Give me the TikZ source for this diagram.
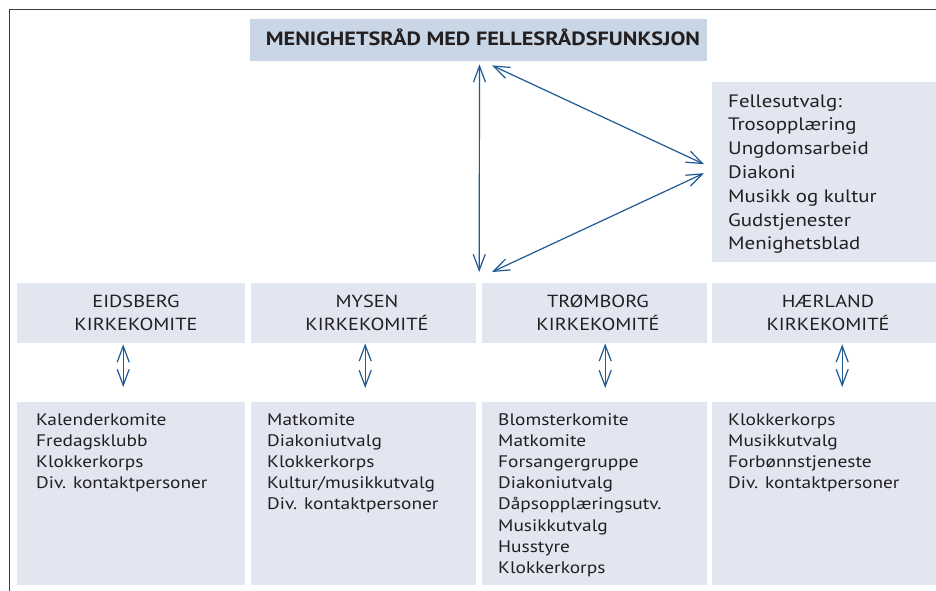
\documentclass[tikz,border=0pt]{standalone}
\usepackage{fontspec}
\setmainfont{PT Sans}[FakeStretch=1.16]
\usetikzlibrary{arrows.meta,calc}
\definecolor{topfill}{RGB}{201,214,230}
\definecolor{boxfill}{RGB}{225,230,241}
\definecolor{arrowblue}{RGB}{30,90,150}
\definecolor{textgrey}{RGB}{35,31,32}
\definecolor{framegrey}{RGB}{60,60,60}
\begin{document}
\begin{tikzpicture}[x=1pt,y=-1pt,
  topbox/.style={fill=topfill, draw=none, inner sep=0pt, anchor=north west},
  box/.style={fill=boxfill, draw=none, inner sep=0pt, anchor=north west},
  titletext/.style={text=textgrey, inner sep=0pt, anchor=base, font=\bfseries\fontsize{19.2}{23}\selectfont},
  headtext/.style={text=textgrey, inner sep=0pt, anchor=base, align=center, font=\fontsize{17.5}{23.5}\selectfont},
  listtext/.style={text=textgrey, inner sep=0pt, anchor=base west, align=left, font=\fontsize{16.7}{21.2}\selectfont},
  felltext/.style={text=textgrey, inner sep=0pt, anchor=base west, align=left, font=\fontsize{18}{23.8}\selectfont},
  arr/.style={arrowblue, line width=1.2pt, {Straight Barb[length=16pt,width=12pt]}-{Straight Barb[length=16pt,width=12pt]}}
]
\useasboundingbox (0,0) rectangle (936,591);
\fill[white] (0,0) rectangle (936,591);
\draw[framegrey, line width=1pt] (936,10) -- (9,10) -- (9,591);

% boxes
\node[topbox, minimum width=457pt, minimum height=42pt] (top) at (250,19) {};
\node[box, minimum width=224pt, minimum height=180pt] (felles) at (712,82) {};
\node[box, minimum width=228pt, minimum height=60pt] (eids) at (17,283) {};
\node[box, minimum width=225pt, minimum height=60pt] (mysen) at (251,283) {};
\node[box, minimum width=225pt, minimum height=60pt] (trom) at (482,283) {};
\node[box, minimum width=224pt, minimum height=60pt] (haer) at (712,283) {};
\node[box, minimum width=228pt, minimum height=183pt] (eidsl) at (17,402) {};
\node[box, minimum width=225pt, minimum height=183pt] (mysenl) at (251,402) {};
\node[box, minimum width=225pt, minimum height=183pt] (troml) at (482,402) {};
\node[box, minimum width=224pt, minimum height=183pt] (haerl) at (712,402) {};

% texts (multi-line nodes are placed by the baseline of their last line)
\node[titletext] (toptext) at (483,46) {MENIGHETSRÅD MED FELLESRÅDSFUNKSJON};
\node[felltext] (fellestext) at (728,249.8) {Fellesutvalg:\\Trosopplæring\\Ungdomsarbeid\\Diakoni\\Musikk og kultur\\Gudstjenester\\Menighetsblad};
\node[headtext] (eidstext) at (136,330.5) {EIDSBERG\\KIRKEKOMITE};
\node[headtext] (mysentext) at (367,330.5) {MYSEN\\KIRKEKOMITÉ};
\node[headtext] (tromtext) at (598,330.5) {TRØMBORG\\KIRKEKOMITÉ};
\node[headtext] (haertext) at (828,330.5) {HÆRLAND\\KIRKEKOMITÉ};
\node[listtext] (eidslist) at (36,488.6) {Kalenderkomite\\Fredagsklubb\\Klokkerkorps\\Div. kontaktpersoner};
\node[listtext] (mysenlist) at (267,509.8) {Matkomite\\Diakoniutvalg\\Klokkerkorps\\Kultur/musikkutvalg\\Div. kontaktpersoner};
\node[listtext] (tromlist) at (498,573.4) {Blomsterkomite\\Matkomite\\Forsangergruppe\\Diakoniutvalg\\Dåpsopplæringsutv.\\Musikkutvalg\\Husstyre\\Klokkerkorps};
\node[listtext] (haerlist) at (728,488.6) {Klokkerkorps\\Musikkutvalg\\Forbønnstjeneste\\Div. kontaktpersoner};

% arrows
\coordinate (vtop) at ($(top.south west)+(229.5,3)$);
\coordinate (vbot) at ($(mysen.north east)!0.5!(trom.north west)+(0,-11)$);
\draw[arr] (vtop) -- (vbot);
\draw[arr] ($(top.south west)+(242,4)$) -- ($(felles.west)+(-8,-8)$);
\draw[arr] ($(felles.west)+(-8,1)$) -- ($(trom.north west)+(10,-11)$);
\draw[arr] ($(eids.south)+(-8,1)$) -- ($(eidsl.north)+(-8,-15)$);
\draw[arr] ($(mysen.south)+(1.5,0)$) -- ($(mysenl.north)+(1.5,-14)$);
\draw[arr] ($(trom.south)+(10.5,0)$) -- ($(troml.north)+(10.5,-14)$);
\draw[arr] ($(haer.south)+(18,1)$) -- ($(haerl.north)+(18,-15)$);
\end{tikzpicture}
\end{document}
